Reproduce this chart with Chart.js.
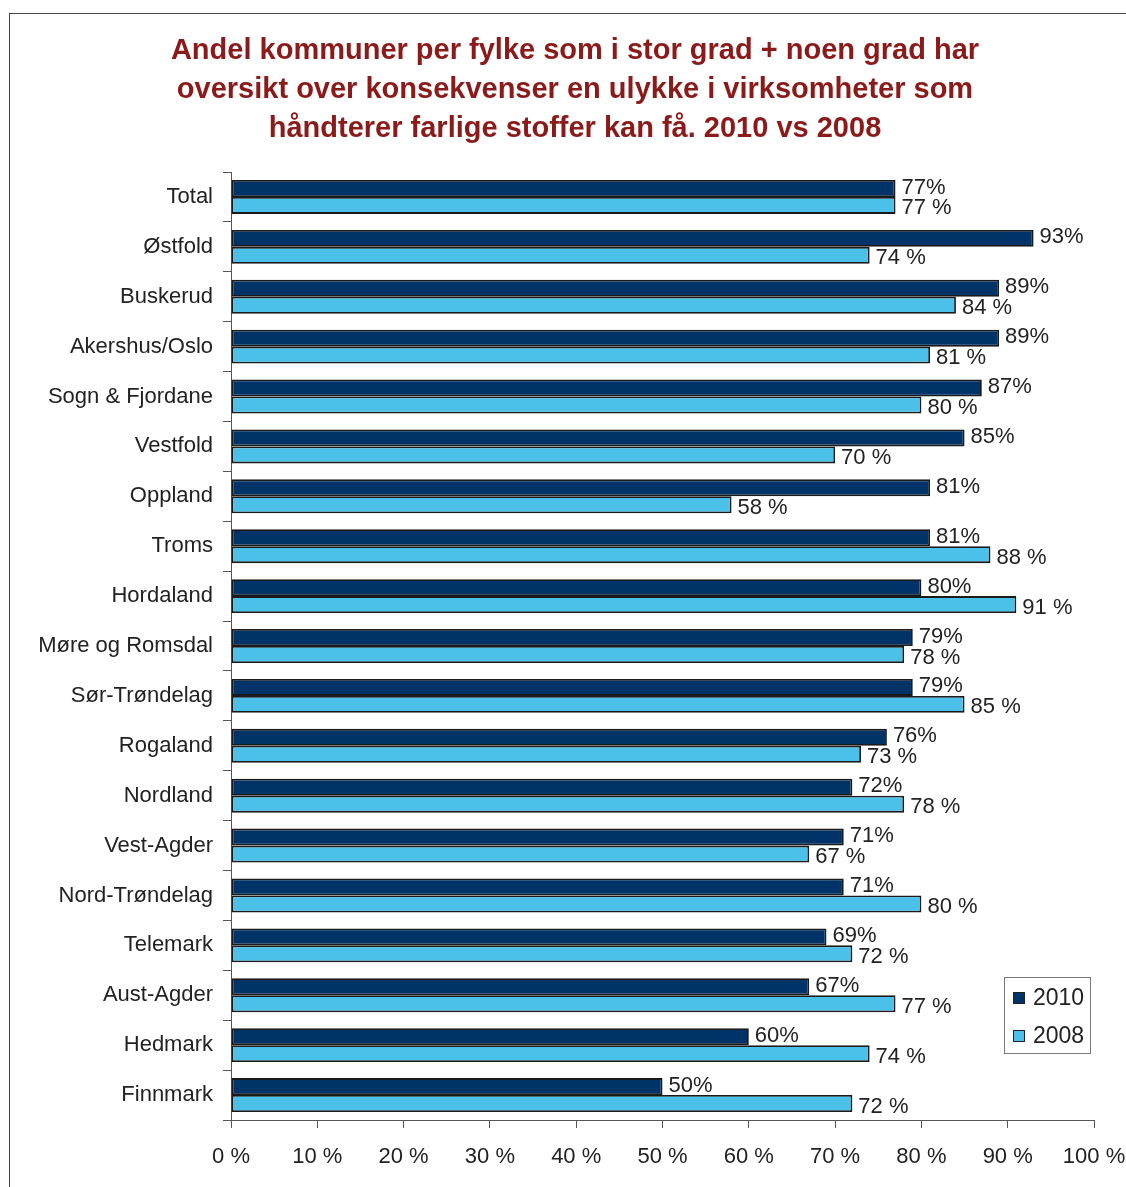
<!DOCTYPE html>
<html>
<head>
<meta charset="utf-8">
<script src="https://cdn.jsdelivr.net/npm/chart.js@4"></script>
<style>
  body { margin: 0; background: #fff; overflow: hidden; }
  #frame { position: absolute; left: 9px; top: 13px; width: 1300px; height: 1300px; border-left: 1px solid #444; border-top: 1px solid #444; }
  #wrap { position: absolute; left: 0; top: 0; width: 1126px; height: 1187px; }
</style>
</head>
<body>
<div id="frame"></div>
<div id="wrap"><canvas id="barChart"></canvas></div>
<script>
// categories, top to bottom
const fylker = ['Total', 'Østfold', 'Buskerud', 'Akershus/Oslo', 'Sogn & Fjordane', 'Vestfold',
  'Oppland', 'Troms', 'Hordaland', 'Møre og Romsdal', 'Sør-Trøndelag', 'Rogaland', 'Nordland',
  'Vest-Agder', 'Nord-Trøndelag', 'Telemark', 'Aust-Agder', 'Hedmark', 'Finnmark'];
const values2010 = [77, 93, 89, 89, 87, 85, 81, 81, 80, 79, 79, 76, 72, 71, 71, 69, 67, 60, 50];
const values2008 = [77, 74, 84, 81, 80, 70, 58, 88, 91, 78, 85, 73, 78, 67, 80, 72, 77, 74, 72];
const xTicks = [0, 10, 20, 30, 40, 50, 60, 70, 80, 90, 100];
const seriesNames = ['2010', '2008'];
const titleLines = ['Andel kommuner per fylke som i stor grad + noen grad har',
  'oversikt over konsekvenser en ulykke i virksomheter som',
  'håndterer farlige stoffer kan få. 2010 vs 2008'];

const FONT = '"Liberation Sans", Arial, sans-serif';
const TEXT = '#222';

// title, centred like the original (not on the chart area)
const topTitle = {
  id: 'topTitle',
  afterDraw(chart) {
    const ctx = chart.ctx;
    ctx.save();
    ctx.font = 'bold 29px ' + FONT;
    ctx.fillStyle = '#8b1a1a';
    ctx.textAlign = 'center';
    ctx.textBaseline = 'middle';
    titleLines.forEach((line, i) => ctx.fillText(line, 575, 51 + i * 39));
    ctx.restore();
  }
};

// value labels at end of bars: 2008 drawn under bars, 2010 on top
const valueLabels = {
  id: 'valueLabels',
  drawSet(chart, idx, suffix, dy) {
    const ctx = chart.ctx;
    const meta = chart.getDatasetMeta(idx);
    const ds = chart.data.datasets[idx];
    ctx.save();
    ctx.font = '22px ' + FONT;
    ctx.fillStyle = TEXT;
    ctx.textAlign = 'left';
    ctx.textBaseline = 'middle';
    meta.data.forEach((bar, i) => {
      ctx.fillText(ds.data[i] + suffix, bar.x + 6, bar.y + dy);
    });
    ctx.restore();
  },
  beforeDatasetsDraw(chart) { this.drawSet(chart, 1, ' %', 3); },
  afterDatasetsDraw(chart) { this.drawSet(chart, 0, '%', -1); }
};

// boxed legend at lower right
const boxLegend = {
  id: 'boxLegend',
  afterDraw(chart) {
    const ctx = chart.ctx;
    const x = 1004, y = 977, w = 86, h = 76;
    ctx.save();
    ctx.fillStyle = '#fff';
    ctx.fillRect(x, y, w, h);
    ctx.strokeStyle = '#777';
    ctx.lineWidth = 1;
    ctx.strokeRect(x + 0.5, y + 0.5, w, h);
    ctx.font = '23px ' + FONT;
    ctx.textBaseline = 'middle';
    chart.data.datasets.forEach((ds, i) => {
      const cy = y + 21 + i * 38;
      ctx.fillStyle = ds.backgroundColor;
      ctx.fillRect(x + 9, cy - 6, 12, 12);
      ctx.strokeStyle = '#222';
      ctx.strokeRect(x + 9.5, cy - 5.5, 11, 11);
      ctx.fillStyle = TEXT;
      ctx.fillText(ds.label, x + 29, cy + 1);
    });
    ctx.restore();
  }
};

const barChart = new Chart(document.getElementById('barChart'), {
  type: 'bar',
  data: {
    labels: fylker,
    datasets: [{
      label: seriesNames[0],
      data: values2010,
      backgroundColor: '#003468',
      borderColor: '#1a1a1a',
      borderWidth: 1.8,
      borderSkipped: false
    }, {
      label: seriesNames[1],
      data: values2008,
      backgroundColor: '#4bc0e9',
      borderColor: '#1a1a1a',
      borderWidth: 1.8,
      borderSkipped: false
    }]
  },
  options: {
    indexAxis: 'y',
    responsive: true,
    maintainAspectRatio: false,
    animation: false,
    categoryPercentage: 0.68,
    barPercentage: 1.0,
    layout: { padding: { top: 172, right: 32, left: 0, bottom: 0 } },
    plugins: {
      legend: { display: false },
      tooltip: { enabled: false },
      title: { display: false }
    },
    scales: {
      x: {
        min: 0,
        max: 100,
        afterBuildTicks(axis) { axis.ticks = xTicks.map(v => ({ value: v })); },
        afterFit(axis) {
          axis.height = 67;
          axis.paddingLeft = 0;
          axis.paddingRight = 0;
        },
        ticks: {
          callback: v => v + ' %',
          color: TEXT,
          font: { family: FONT, size: 22 },
          padding: 16,
          maxRotation: 0
        },
        grid: { drawOnChartArea: false, tickLength: 8, color: '#555' },
        border: { color: '#555', width: 1 }
      },
      y: {
        afterFit(axis) {
          axis.width = 231;
          axis.paddingTop = 0;
          axis.paddingBottom = 0;
        },
        ticks: {
          color: TEXT,
          font: { family: FONT, size: 22 },
          padding: 10,
          autoSkip: false
        },
        grid: { drawOnChartArea: false, offset: true, tickLength: 8, color: '#555' },
        border: { color: '#555', width: 1 }
      }
    }
  },
  plugins: [topTitle, valueLabels, boxLegend]
});
</script>
</body>
</html>
